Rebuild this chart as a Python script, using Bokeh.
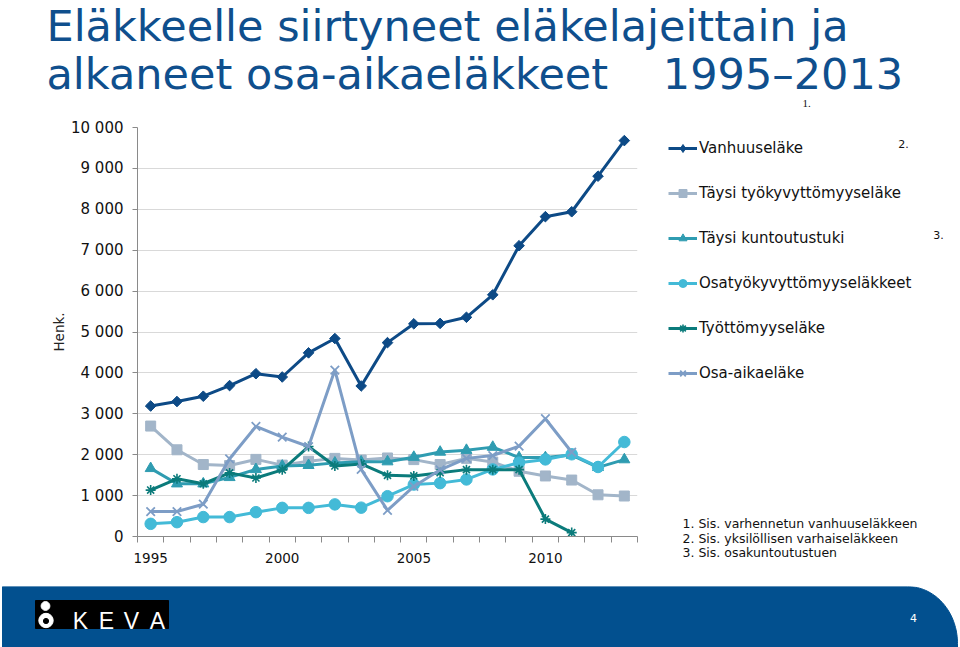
import numpy as np
from bokeh.plotting import figure
from bokeh.layouts import column, row
from bokeh.models import ColumnDataSource, FixedTicker, Range1d, Legend, LegendItem
from bokeh.embed import file_html
from bokeh.resources import INLINE
from bokeh.core.properties import value

# ---------------- data ----------------
years = list(range(1995, 2014))
vanhuuselake = [3190, 3300, 3430, 3690, 3980, 3900, 4490, 4840, 3680, 4740,
                5200, 5210, 5360, 5910, 7110, 7820, 7940, 8810, 9680]
tyokyvyttomyyselake = [2700, 2120, 1760, 1735, 1885, 1745, 1840, 1910, 1870, 1920,
                       1880, 1760, 1910, 1820, 1595, 1480, 1380, 1020, 990]
kuntoutustuki = [1665, 1290, 1290, 1445, 1640, 1725, 1740, 1800, 1825, 1830,
                 1940, 2065, 2110, 2185, 1930, 1930, 1990, 1690, 1880]
osatyokyvyttomyys = [310, 350, 475, 475, 595, 700, 700, 785, 705, 985,
                     1270, 1305, 1395, 1640, 1805, 1885, 2010, 1700, 2310]
tyottomyyselake = [1135, 1410, 1290, 1555, 1430, 1630, 2200, 1725, 1775, 1495,
                   1480, 1560, 1635, 1635, 1635, 425, 95]
osa_aikaelake = [610, 610, 790, 1900, 2690, 2430, 2200, 4070, 1640, 640,
                 1225, 1630, 1910, 1980, 2210, 2880, 2060]

series_names = ["Vanhuuseläke", "Täysi työkyvyttömyyseläke", "Täysi kuntoutustuki",
                "Osatyökyvyttömyyseläkkeet", "Työttömyyseläke", "Osa-aikaeläke"]
series_values = [vanhuuselake, tyokyvyttomyyselake, kuntoutustuki,
                 osatyokyvyttomyys, tyottomyyselake, osa_aikaelake]

y_ticks = [0, 1000, 2000, 3000, 4000, 5000, 6000, 7000, 8000, 9000, 10000]
y_tick_labels = ["0", "1 000", "2 000", "3 000", "4 000", "5 000",
                 "6 000", "7 000", "8 000", "9 000", "10 000"]
x_tick_years = [1995, 2000, 2005, 2010]

title_lines = ["Eläkkeelle siirtyneet eläkelajeittain ja",
               "alkaneet osa-aikaeläkkeet\u00a0\u00a0\u00a0\u00a01995\u20132013"]
footnotes = ["1. Sis. varhennetun vanhuuseläkkeen",
             "2. Sis. yksilöllisen varhaiseläkkeen",
             "3. Sis. osakuntoutustuen"]

# ---------------- styles ----------------
colors = ["#0d4a86", "#a2b5c9", "#2f9cb1", "#43bad7", "#0b7b7b", "#7d9dc6"]
markers = ["square", "square", "triangle", "circle", "asterisk", "x"]
key_markers = ["diamond", "square", "triangle", "circle", "asterisk", "x"]
sizes = [7.5, 10, 11, 11.5, 10, 12]
angles = [np.pi / 4, 0, 0, 0, 0, 0]
mlw = [1, 1, 1, 1, 1.6, 1.8]

FONT = "DejaVu Sans"
TITLE_C = "#0f4f8d"
AXIS_C = "#8a8a8a"
GRID_C = "#d9d9d9"
BAND_C = "#02508f"
TXT_C = "#111111"

W = 960
H_TOP = 113
H_MID = 473
H_FOOT = 61
W_CHART = 658
W_RIGHT = W - W_CHART


def no_align(fig):
    try:
        fig.frame_align = False
    except Exception:
        pass


def deco_fig(w, h, x0, x1, y0, y1):
    fg = figure(width=w, height=h, x_range=Range1d(x0, x1), y_range=Range1d(y0, y1),
                output_backend="svg", toolbar_location=None,
                x_axis_location=None, y_axis_location=None, min_border=0)
    fg.grid.visible = False
    fg.outline_line_color = None
    fg.background_fill_color = "white"
    fg.border_fill_color = "white"
    no_align(fg)
    return fg


# ---------------- title strip (page pixel coordinates) ----------------
top = deco_fig(W, H_TOP, 0, W, H_TOP, 0)
top.text(x=[46, 46], y=[25, 73], text=title_lines, text_font=value(FONT),
         text_font_size="43px", text_color=TITLE_C,
         text_align="left", text_baseline="middle")
top.text(x=[806], y=[103], text=["1."], text_font=value("Liberation Serif"),
         text_font_size="11px", text_color=TXT_C,
         text_align="center", text_baseline="middle")

# ---------------- chart ----------------
p = figure(width=W_CHART, height=H_MID,
           x_range=Range1d(1994.5, 2013.5), y_range=Range1d(0, 10000),
           output_backend="svg", toolbar_location=None,
           min_border_left=137, min_border_right=21,
           min_border_top=14, min_border_bottom=50)
p.background_fill_color = "white"
p.border_fill_color = "white"
p.outline_line_color = None
no_align(p)

yt = FixedTicker(ticks=y_ticks)
p.yaxis.ticker = yt
p.ygrid.ticker = yt
p.yaxis.major_label_overrides = dict(zip(y_ticks, y_tick_labels))
p.yaxis.axis_label = "Henk."
p.yaxis.axis_label_text_font = FONT
p.yaxis.axis_label_text_font_size = "13.5px"
p.yaxis.axis_label_text_font_style = "normal"
p.yaxis.axis_label_text_color = "#222222"
p.yaxis.axis_label_standoff = 1
p.yaxis.major_label_text_font = FONT
p.yaxis.major_label_text_font_size = "15px"
p.yaxis.major_label_text_color = TXT_C
p.yaxis.major_label_standoff = 9
p.yaxis.major_tick_out = 5
p.yaxis.major_tick_in = 0
p.yaxis.minor_tick_line_color = None

xt = FixedTicker(ticks=x_tick_years, minor_ticks=[y - 0.5 for y in years] + [years[-1] + 0.5])
p.xaxis.ticker = xt
p.xaxis.major_tick_out = 0
p.xaxis.major_tick_in = 0
p.xaxis.minor_tick_out = 6
p.xaxis.minor_tick_in = 0
p.xaxis.minor_tick_line_color = AXIS_C
p.xaxis.major_label_text_font = FONT
p.xaxis.major_label_text_font_size = "13.5px"
p.xaxis.major_label_text_color = TXT_C
p.xaxis.major_label_standoff = 10

for ax in (p.xaxis, p.yaxis):
    ax.axis_line_color = AXIS_C
    ax.major_tick_line_color = AXIS_C

p.xgrid.visible = False
p.ygrid.grid_line_color = GRID_C
p.ygrid.grid_line_width = 1

for name, vals, c, m, s, a, lw in zip(series_names, series_values, colors, markers, sizes, angles, mlw):
    src = ColumnDataSource(dict(x=years[:len(vals)], y=vals))
    p.line("x", "y", source=src, line_color=c, line_width=3)
    p.scatter("x", "y", source=src, marker=m, size=s, angle=a,
              fill_color=c, line_color=c, line_width=lw)

# ---------------- right strip: legend + footnotes (page pixel coordinates) ----------------
X0 = W_CHART
right = deco_fig(W_RIGHT, H_MID, X0, W, H_TOP + H_MID, H_TOP)
items = []
for name, vals, c, m, lw in zip(series_names, series_values, colors, key_markers, mlw):
    # key glyphs: first data point of each series, which lies outside this strip's pixel ranges
    key_src = ColumnDataSource(dict(x=years[:1], y=vals[:1]))
    lr = right.line("x", "y", source=key_src, line_color=c, line_width=3)
    sr = right.scatter("x", "y", source=key_src, marker=m, size=8,
                       fill_color=c, line_color=c, line_width=lw)
    items.append(LegendItem(label=name, renderers=[lr, sr]))

legend = Legend(items=items, location=(668 - X0, H_TOP + H_MID - 383), padding=0, margin=0,
                spacing=25, glyph_width=29, glyph_height=20, label_height=20, label_standoff=2,
                label_text_font=FONT, label_text_font_size="15px", label_text_color=TXT_C,
                border_line_color=None, background_fill_alpha=0)
right.add_layout(legend)

right.text(x=[903, 938], y=[143, 234], text=["2.", "3."], text_font=value(FONT),
           text_font_size="11px", text_color=TXT_C,
           text_align="center", text_baseline="middle")
right.text(x=[682, 682, 682], y=[523, 537.5, 552], text=footnotes, text_font=value(FONT),
           text_font_size="12.5px", text_color=TXT_C,
           text_align="left", text_baseline="middle")

# ---------------- footer band (page pixel coordinates) ----------------
Y0 = H_TOP + H_MID
f = deco_fig(W, H_FOOT, 0, W, Y0 + H_FOOT, Y0)
tt = np.linspace(0, np.pi / 2, 40)
ex = 907 + 50 * np.sin(tt)
ey = 643 - 57 * np.cos(tt)
f.patch(x=[2, 2] + list(ex) + [957], y=[650, 586] + list(ey) + [650],
        fill_color=BAND_C, line_color=BAND_C)

f.quad(left=[35], right=[168], top=[600], bottom=[628], fill_color="black", line_color="black")
f.circle(x=[45], y=[605.5], radius=4.4, fill_color="white", line_color="white")
f.circle(x=[45.5], y=[620], radius=7.2, fill_color="white", line_color="white")
f.circle(x=[45.5], y=[620.5], radius=2.6, fill_color="black", line_color="black")
f.text(x=[80, 106, 131, 157], y=[620, 620, 620, 620], text=list("KEVA"),
       text_font=value("Liberation Sans"), text_font_size="23px", text_color="white",
       text_align="center", text_baseline="middle")
f.text(x=[913], y=[617], text=["4"], text_font=value(FONT), text_font_size="11px",
       text_color="white", text_align="center", text_baseline="middle")

layout = column(top, row(p, right, spacing=0), f, spacing=0)
open("out.html", "w").write(file_html(layout, INLINE))
